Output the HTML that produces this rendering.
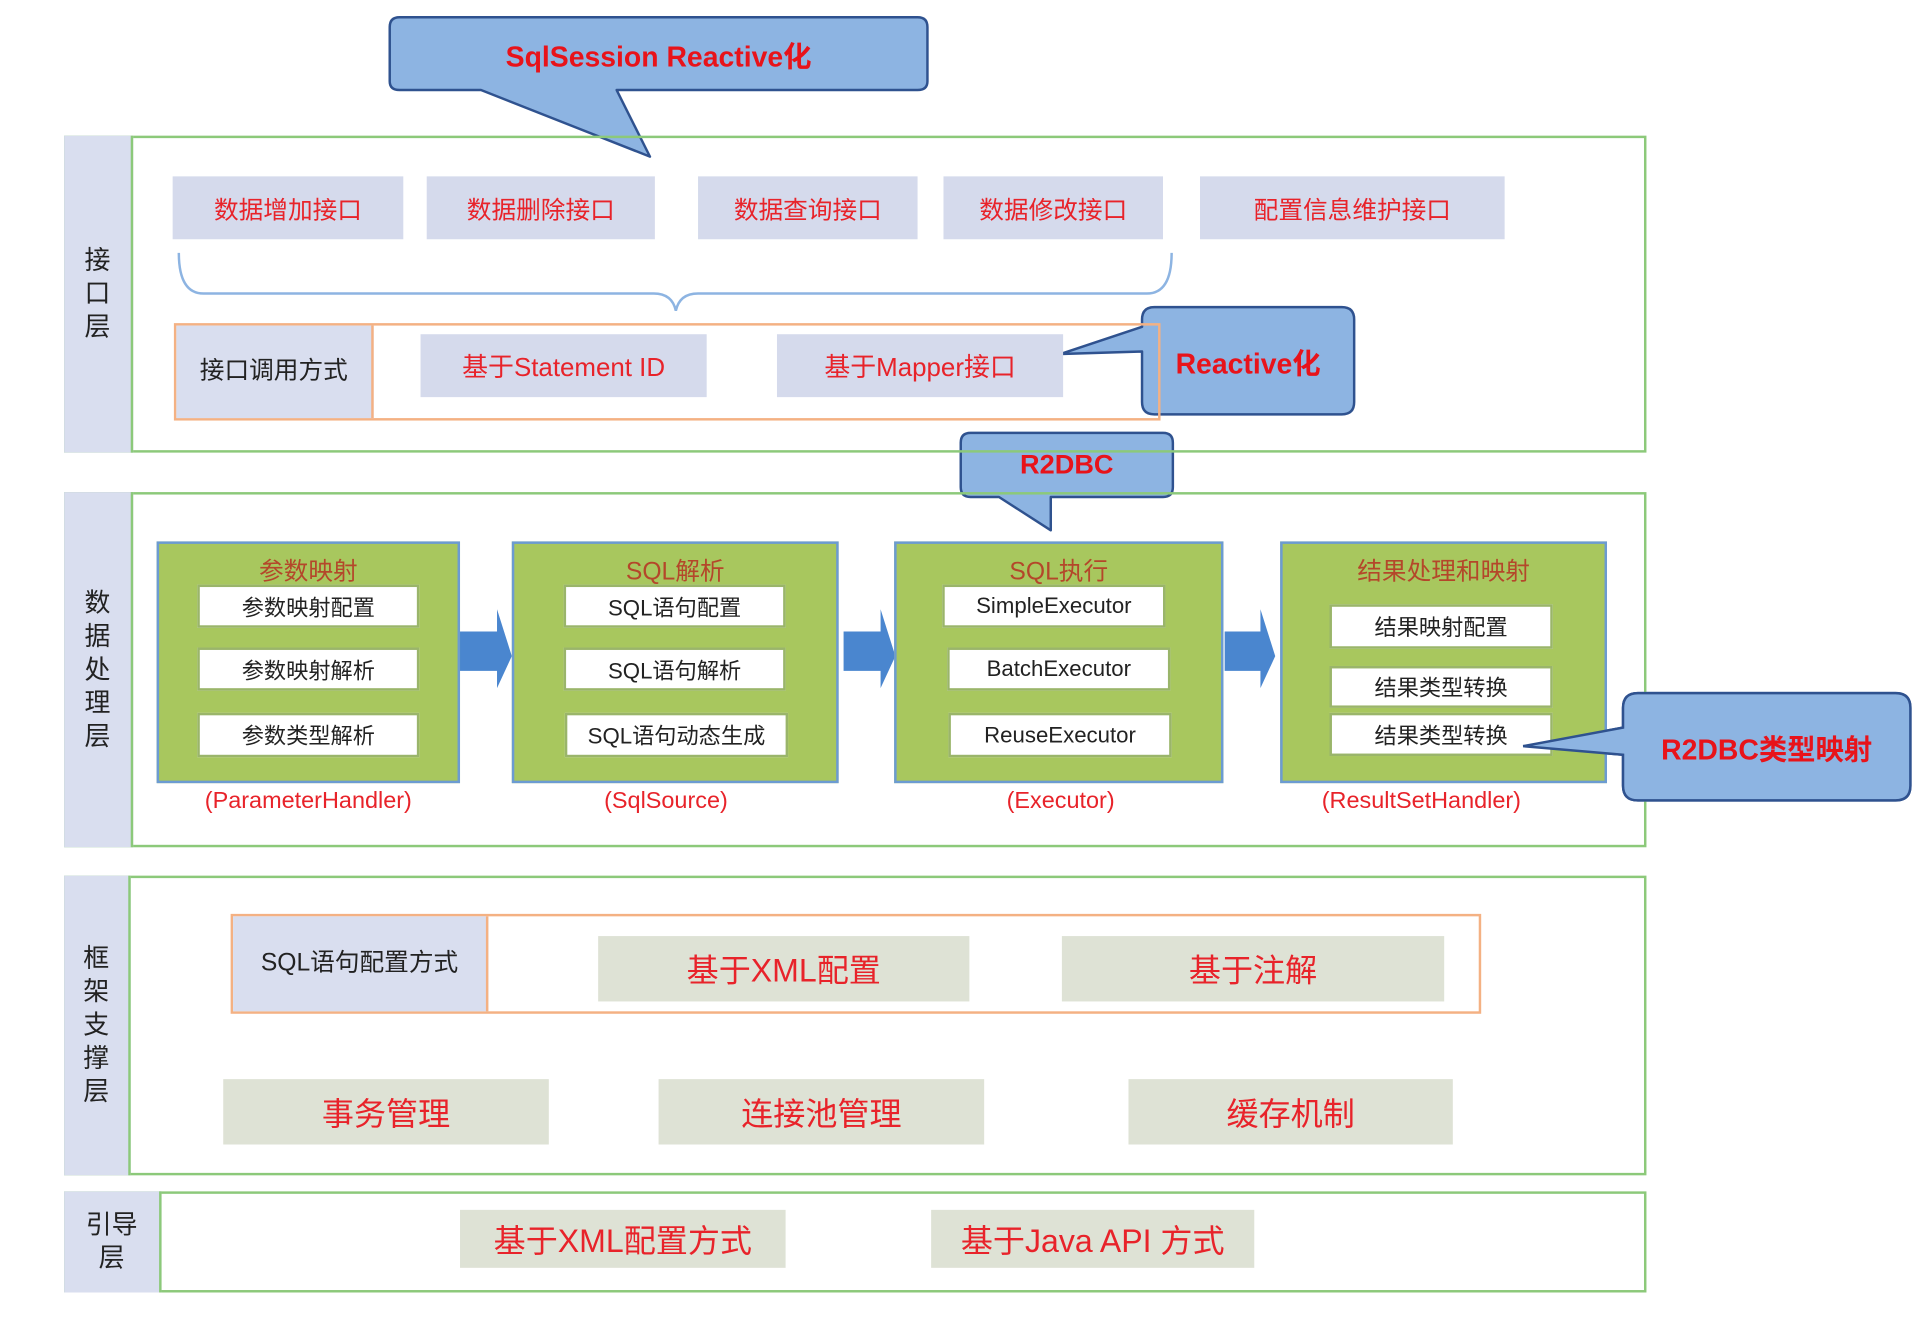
<!DOCTYPE html>
<html><head><meta charset="utf-8"><style>
html,body{margin:0;padding:0;background:#fff;width:1924px;height:1320px;overflow:hidden}
#s{position:absolute;left:0;top:0;width:1560px;height:1070px;transform:scale(1.2333);transform-origin:0 0;font-family:"Liberation Sans","Noto Sans CJK SC",sans-serif}
.a{position:absolute;box-sizing:border-box}
.layer{border:2px solid #8CC97A}
.lab{background:#D9DEEF;border-right:2px solid #8CC97A;display:flex;align-items:center;justify-content:center;color:#222;font-size:21px;line-height:27px;text-align:center}
.pb{background:#D5DAEC;color:#E8232A;font-size:20px;display:flex;align-items:center;justify-content:center}
.gb{background:#DEE2D5;color:#E8232A;font-size:26px;display:flex;align-items:center;justify-content:center}
.green{background:#A8C75E;border:2px solid #6C9BD2}
.gt{position:absolute;left:0;right:0;top:6px;text-align:center;color:#B4472A;font-size:20px}
.wb{background:#fff;border:2px solid #9ab56a;font-size:18px;color:#222;display:flex;align-items:center;justify-content:center}
.cap{color:#E8232A;font-size:19px;text-align:center}
.ct{color:#E8131A;font-weight:bold;display:flex;align-items:center;justify-content:center}
</style></head><body><div id="s">
<svg class="a" style="left:0;top:0" width="1560" height="1070">
<!-- brace -->
<path d="M145 205 Q145 238 165 238 L530 238 Q545 238 548 252 Q551 238 566 238 L930 238 Q950 238 950 205" fill="none" stroke="#8DB4E2" stroke-width="2"/>
<!-- blue arrows -->
<g fill="#4A86CF">
<polygon points="372,512 403,512 403,494 415,532 403,558 403,544 372,544"/>
<polygon points="684,512 714,512 714,494 726,532 714,558 714,544 684,544"/>
<polygon points="993,512 1022,512 1022,494 1034,532 1022,558 1022,544 993,544"/>
</g>
<!-- callouts -->
<g fill="#8DB4E2" stroke="#2F528F" stroke-width="2" stroke-linejoin="round">
<path d="M324 14 L744 14 Q752 14 752 22 L752 66 Q752 73 744 73 L500 73 L527 127 L390 73 L324 73 Q316 73 316 66 L316 22 Q316 14 324 14 Z"/>
<path d="M936 249 L1088 249 Q1098 249 1098 259 L1098 326 Q1098 336 1088 336 L936 336 Q926 336 926 326 L926 285 L860 287 L926 265 L926 259 Q926 249 936 249 Z"/>
<path d="M787 351 L943 351 Q951 351 951 359 L951 395 Q951 403 943 403 L852 403 L852 430 L810 403 L787 403 Q779 403 779 395 L779 359 Q779 351 787 351 Z"/>
<path d="M1328 562 L1537 562 Q1549 562 1549 574 L1549 637 Q1549 649 1537 649 L1328 649 Q1316 649 1316 637 L1316 612 L1235 605 L1316 590 L1316 574 Q1316 562 1328 562 Z"/>
</g>
</svg>
<div class="a ct" style="left:316px;top:14px;width:436px;height:59px;font-size:23px">SqlSession Reactive化</div>
<div class="a ct" style="left:926px;top:249px;width:172px;height:87px;font-size:23px">Reactive化</div>
<div class="a ct" style="left:779px;top:351px;width:172px;height:52px;font-size:22px">R2DBC</div>
<div class="a ct" style="left:1316px;top:562px;width:233px;height:87px;font-size:23px">R2DBC类型映射</div>

<!-- layer 1 -->
<div class="a layer" style="left:52px;top:110px;width:1283px;height:257px"></div>
<div class="a lab" style="left:52px;top:110px;width:56px;height:257px">接<br>口<br>层</div>
<div class="a pb" style="left:140px;top:143px;width:187px;height:51px">数据增加接口</div>
<div class="a pb" style="left:346px;top:143px;width:185px;height:51px">数据删除接口</div>
<div class="a pb" style="left:566px;top:143px;width:178px;height:51px">数据查询接口</div>
<div class="a pb" style="left:765px;top:143px;width:178px;height:51px">数据修改接口</div>
<div class="a pb" style="left:973px;top:143px;width:247px;height:51px">配置信息维护接口</div>
<div class="a" style="left:141px;top:262px;width:800px;height:79px;border:2px solid #F4B183"></div>
<div class="a lab" style="left:143px;top:264px;width:160px;height:75px;border-right:2px solid #F4B183;font-size:20px">接口调用方式</div>
<div class="a pb" style="left:341px;top:271px;width:232px;height:51px;font-size:21px">基于Statement ID</div>
<div class="a pb" style="left:630px;top:271px;width:232px;height:51px;font-size:21px">基于Mapper接口</div>

<!-- layer 2 -->
<div class="a layer" style="left:52px;top:399px;width:1283px;height:288px"></div>
<div class="a lab" style="left:52px;top:399px;width:56px;height:288px">数<br>据<br>处<br>理<br>层</div>
<div class="a green" style="left:127px;top:439px;width:246px;height:196px"><div class="gt">参数映射</div></div>
<div class="a green" style="left:415px;top:439px;width:265px;height:196px"><div class="gt">SQL解析</div></div>
<div class="a green" style="left:725px;top:439px;width:267px;height:196px"><div class="gt">SQL执行</div></div>
<div class="a green" style="left:1038px;top:439px;width:265px;height:196px"><div class="gt">结果处理和映射</div></div>
<div class="a wb" style="left:160px;top:474px;width:180px;height:35px">参数映射配置</div>
<div class="a wb" style="left:160px;top:525px;width:180px;height:35px">参数映射解析</div>
<div class="a wb" style="left:160px;top:578px;width:180px;height:36px">参数类型解析</div>
<div class="a wb" style="left:457px;top:474px;width:180px;height:35px">SQL语句配置</div>
<div class="a wb" style="left:457px;top:525px;width:180px;height:35px">SQL语句解析</div>
<div class="a wb" style="left:458px;top:578px;width:181px;height:36px">SQL语句动态生成</div>
<div class="a wb" style="left:764px;top:474px;width:181px;height:35px">SimpleExecutor</div>
<div class="a wb" style="left:768px;top:525px;width:181px;height:35px">BatchExecutor</div>
<div class="a wb" style="left:769px;top:578px;width:181px;height:36px">ReuseExecutor</div>
<div class="a wb" style="left:1078px;top:490px;width:181px;height:36px">结果映射配置</div>
<div class="a wb" style="left:1078px;top:540px;width:181px;height:34px">结果类型转换</div>
<div class="a wb" style="left:1078px;top:578px;width:181px;height:35px">结果类型转换</div>
<div class="a cap" style="left:127px;top:639px;width:246px">(ParameterHandler)</div>
<div class="a cap" style="left:415px;top:639px;width:250px">(SqlSource)</div>
<div class="a cap" style="left:725px;top:639px;width:270px">(Executor)</div>
<div class="a cap" style="left:1020px;top:639px;width:265px">(ResultSetHandler)</div>
<!-- re-draw callout 4 over boxes -->
<svg class="a" style="left:1230px;top:555px" width="330" height="100"><path d="M98 7 L307 7 Q319 7 319 19 L319 82 Q319 94 307 94 L98 94 Q86 94 86 82 L86 57 L5 50 L86 35 L86 19 Q86 7 98 7 Z" fill="#8DB4E2" stroke="#2F528F" stroke-width="2"/></svg>
<div class="a ct" style="left:1316px;top:562px;width:233px;height:87px;font-size:23px">R2DBC类型映射</div>

<!-- layer 3 -->
<div class="a layer" style="left:52px;top:710px;width:1283px;height:243px"></div>
<div class="a lab" style="left:52px;top:710px;width:54px;height:243px">框<br>架<br>支<br>撑<br>层</div>
<div class="a" style="left:187px;top:741px;width:1014px;height:81px;border:2px solid #F4B183"></div>
<div class="a lab" style="left:189px;top:743px;width:207px;height:77px;border-right:2px solid #F4B183;font-size:20px">SQL语句配置方式</div>
<div class="a gb" style="left:485px;top:759px;width:301px;height:53px">基于XML配置</div>
<div class="a gb" style="left:861px;top:759px;width:310px;height:53px">基于注解</div>
<div class="a gb" style="left:181px;top:875px;width:264px;height:53px">事务管理</div>
<div class="a gb" style="left:534px;top:875px;width:264px;height:53px">连接池管理</div>
<div class="a gb" style="left:915px;top:875px;width:263px;height:53px">缓存机制</div>

<!-- layer 4 -->
<div class="a layer" style="left:52px;top:966px;width:1283px;height:82px"></div>
<div class="a lab" style="left:52px;top:966px;width:79px;height:82px">引导<br>层</div>
<div class="a gb" style="left:373px;top:981px;width:264px;height:47px">基于XML配置方式</div>
<div class="a gb" style="left:755px;top:981px;width:262px;height:47px">基于Java API 方式</div>
</div></body></html>
